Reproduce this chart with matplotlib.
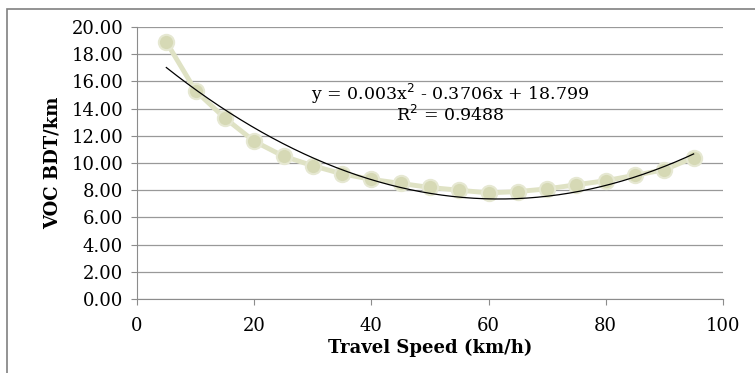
import numpy as np
import matplotlib.pyplot as plt
from matplotlib.patches import Rectangle

# data
speed = [5, 10, 15, 20, 25, 30, 35, 40, 45, 50, 55, 60, 65, 70, 75, 80, 85, 90, 95]
voc = [18.9, 15.3, 13.3, 11.6, 10.5, 9.8, 9.2, 8.8, 8.5, 8.2, 8.0, 7.8, 7.9, 8.1, 8.4, 8.7, 9.1, 9.5, 10.4]
trend_coef = [0.003, -0.3706, 18.799]  # from the equation label
y_ticks = [0, 2, 4, 6, 8, 10, 12, 14, 16, 18, 20]
x_ticks = [0, 20, 40, 60, 80, 100]

plt.rcParams['font.family'] = ['DejaVu Serif']

fig = plt.figure(figsize=(7.55, 3.73), dpi=100)
ax = fig.add_axes([0.1815, 0.1984, 0.776, 0.7292])

# outer chart border
fig.patches.append(Rectangle((7 / 755, -0.1), 1.2, 1 - 9 / 373 + 0.1, transform=fig.transFigure,
                             fill=False, edgecolor='#808080', linewidth=1.2))

# series with pale markers
ax.plot(speed, voc, '-', color='#dfe2c4', linewidth=3.5, zorder=2)
ax.plot(speed, voc, 'o', markersize=11, markerfacecolor='#d6d9b5', markeredgecolor='#e6e8d2',
        markeredgewidth=1.5, zorder=3)

# polynomial trendline
xs = np.linspace(min(speed), max(speed), 200)
ax.plot(xs, np.polyval(trend_coef, xs), color='black', linewidth=0.9, zorder=4)

ax.text(53.5, 15.05, 'y = 0.003x$^{2}$ - 0.3706x + 18.799', fontsize=12.5, ha='center', va='center')
ax.text(53.5, 13.5, 'R$^{2}$ = 0.9488', fontsize=12.5, ha='center', va='center')

ax.set_xlim(0, 100)
ax.set_ylim(0, 20)
ax.set_xticks(x_ticks)
ax.set_yticks(y_ticks)
ax.set_yticklabels([f'{v:.2f}' for v in y_ticks])
ax.tick_params(axis='both', labelsize=13, colors='#8c8c8c', labelcolor='black', length=4, width=0.8)
ax.tick_params(axis='x', pad=9)
ax.tick_params(axis='y', pad=6)

ax.grid(axis='y', color='#999999', linewidth=0.9)
ax.set_axisbelow(True)
for s in ['top', 'right']:
    ax.spines[s].set_visible(False)
for s in ['left', 'bottom']:
    ax.spines[s].set_color('#8c8c8c')

ax.set_xlabel('Travel Speed (km/h)', fontsize=13, fontweight='bold', labelpad=3)
ax.set_ylabel('VOC BDT/km', fontsize=13, fontweight='bold', labelpad=7)

fig.savefig('out.png', dpi=100)
